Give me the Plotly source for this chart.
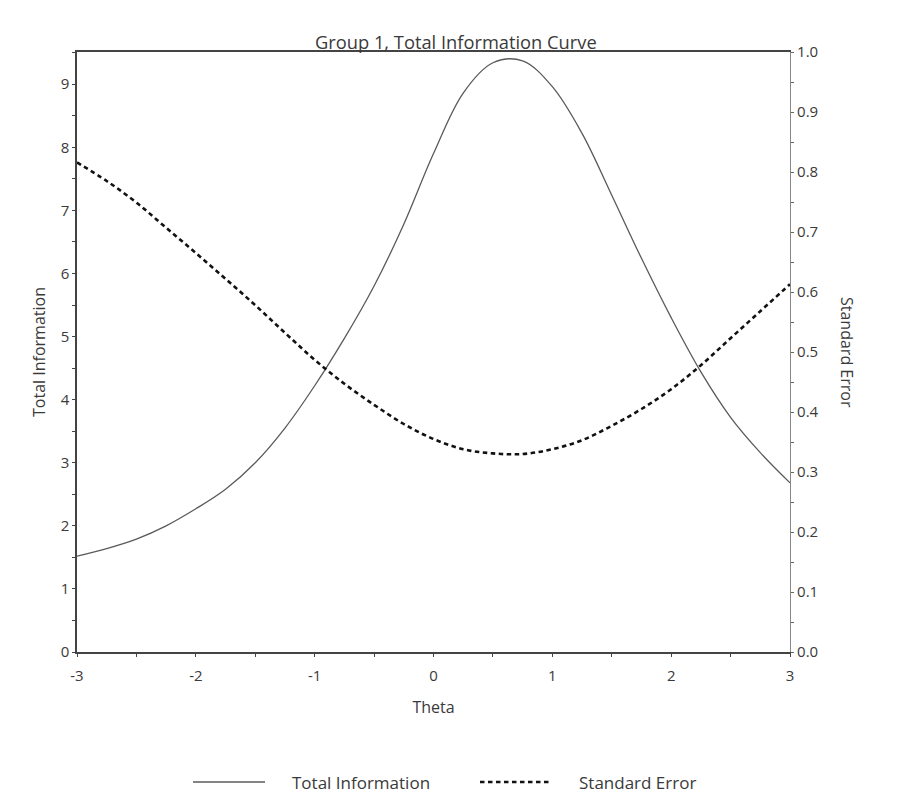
import plotly.graph_objects as go

# Data
theta = [-3.0, -2.75, -2.5, -2.25, -2.0, -1.75, -1.5, -1.25, -1.0, -0.75, -0.5, -0.25,
         0.0, 0.25, 0.5, 0.75, 1.0, 1.25, 1.5, 1.75, 2.0, 2.25, 2.5, 2.75, 3.0]
total_information = [1.52, 1.64, 1.79, 2.00, 2.27, 2.58, 3.00, 3.55, 4.22, 4.97, 5.80, 6.78,
                     7.90, 8.86, 9.34, 9.37, 8.96, 8.22, 7.24, 6.24, 5.30, 4.44, 3.72, 3.16, 2.68]
standard_error = [0.816, 0.785, 0.749, 0.707, 0.665, 0.622, 0.578, 0.532, 0.487, 0.447, 0.412, 0.380,
                  0.355, 0.338, 0.331, 0.330, 0.338, 0.353, 0.377, 0.405, 0.438, 0.478, 0.523, 0.568, 0.613]

x_ticks = [-3, -2, -1, 0, 1, 2, 3]
left_ticks = list(range(0, 10))
right_ticks = [round(i * 0.1, 1) for i in range(11)]

title_text = "Group 1, Total Information Curve"
series_names = ["Total Information", "Standard Error"]
FONT = "Open Sans, Noto Sans, sans-serif"
TXT = "#3a3a3a"

solid_style = dict(color="#5a5a5a", width=1.3)
dotted_style = dict(color="#111111", width=2.6, dash="4.5px,3.5px")

fig = go.Figure()
fig.add_trace(go.Scatter(
    x=theta, y=total_information, name=series_names[0], mode="lines",
    line=dict(**solid_style, shape="spline", smoothing=1.0),
    yaxis="y", showlegend=False))
fig.add_trace(go.Scatter(
    x=theta, y=standard_error, name=series_names[1], mode="lines",
    line=dict(**dotted_style, shape="spline", smoothing=1.0),
    yaxis="y2", showlegend=False))

tick_font = dict(family=FONT, size=15, color=TXT)
title_font = dict(family=FONT, size=16, color=TXT)

# Legend (drawn as a key below the plot, like the original)
legend_y = -0.2167
legend_items = [
    (series_names[0], solid_style, 0.1627, 0.2637, 0.2987),
    (series_names[1], dotted_style, 0.5652, 0.6634, 0.7013),
]
shapes = []
annotations = [
    dict(text=title_text, xref="paper", yref="paper", x=0.531, y=1.0, yanchor="bottom",
         xanchor="center", showarrow=False, yshift=-4,
         font=dict(family=FONT, size=18.3, color=TXT)),
    dict(text="Standard Error", xref="paper", yref="paper", x=1.0, y=0.5, xanchor="left",
         yanchor="middle", showarrow=False, textangle=90, xshift=44, font=title_font),
]
for name, style, x0, x1, xt in legend_items:
    shapes.append(dict(type="line", xref="paper", yref="paper", x0=x0, x1=x1,
                       y0=legend_y, y1=legend_y,
                       line=dict(color=style["color"], width=style["width"],
                                 dash=style.get("dash", "solid"))))
    annotations.append(dict(text=name, xref="paper", yref="paper", x=xt, y=legend_y,
                            xanchor="left", yanchor="middle", showarrow=False,
                            font=dict(family=FONT, size=17, color=TXT)))

fig.update_layout(
    width=908, height=803,
    margin=dict(l=77, r=118, t=52, b=151),
    paper_bgcolor="white", plot_bgcolor="white",
    font=dict(family=FONT, size=15, color=TXT),
    showlegend=False,
    xaxis=dict(range=[-3, 3], tickvals=x_ticks, ticktext=[str(v) for v in x_ticks],
               showgrid=False, zeroline=False, showline=True, linecolor="#444444", linewidth=1.5,
               mirror=True, ticks="outside", ticklen=3, tickcolor="#444444",
               minor=dict(dtick=0.5, ticks="outside", ticklen=3, tickcolor="#444444"),
               tickfont=tick_font, ticklabelstandoff=6,
               title=dict(text="Theta", font=title_font, standoff=18)),
    yaxis=dict(range=[0, 9.51], tickvals=left_ticks, ticktext=[str(v) for v in left_ticks],
               showgrid=False, zeroline=False, showline=True, linecolor="#444444", linewidth=1.5,
               ticks="outside", ticklen=3, tickcolor="#444444",
               minor=dict(dtick=0.5, ticks="outside", ticklen=3, tickcolor="#444444"),
               tickfont=tick_font,
               title=dict(text="Total Information", font=title_font, standoff=11)),
    yaxis2=dict(range=[0, 1.0], overlaying="y", side="right", tickvals=right_ticks,
                ticktext=[f"{v:.1f}" for v in right_ticks],
                showgrid=False, zeroline=False, showline=True, linecolor="#888888", linewidth=1.2,
                ticks="outside", ticklen=3, tickcolor="#666666",
                minor=dict(dtick=0.05, ticks="outside", ticklen=3, tickcolor="#666666"),
                tickfont=tick_font),
    shapes=shapes,
    annotations=annotations,
)

fig.write_html("out.html")
